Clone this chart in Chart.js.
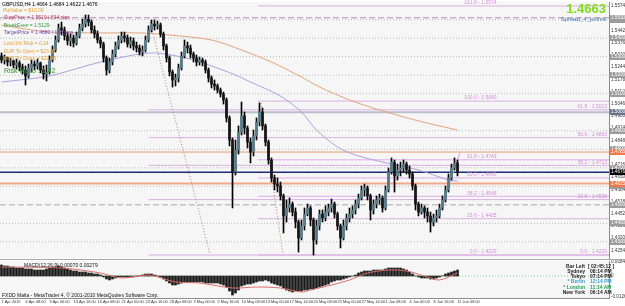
<!DOCTYPE html>
<html>
<head>
<meta charset="utf-8">
<script src="https://cdn.jsdelivr.net/npm/chart.js@4.4.1/dist/chart.umd.min.js"></script>
<style>
  html, body { margin: 0; padding: 0; background: #fff; }
  #wrap { position: relative; width: 625px; height: 306px; overflow: hidden;
          font-family: "Liberation Sans", Arial, sans-serif; }
  canvas { position: absolute; left: 0; }
  #main { top: 0; }
  #macd { top: 260px; }
  .sep { position: absolute; left: 0; width: 625px; height: 1px; background: #a9a9a9; }
  .t { position: absolute; white-space: nowrap; font-size: 5px; line-height: 6px; }
  .r { text-align: right; }
  .b { font-weight: bold; }
</style>
</head>
<body>
<div id="wrap">
  <canvas id="main" width="625" height="259"></canvas>
  <div class="sep" style="top:259px"></div>
  <canvas id="macd" width="625" height="46"></canvas>

  <div class="t" style="left:2px;top:1px;color:#000">GBPUSD,H4 1.4664 1.4684 1.4622 1.4676</div>
  <div class="t" style="left:3px;top:7px;color:#e3a33c">PipValue = $10.00</div>
  <div class="t" style="left:4px;top:14px;color:#b0385a">StopPrice = 1.5510 / 834 pips</div>
  <div class="t" style="left:4px;top:22px;color:#2f9a3a">BreakEven = 1.5129</div>
  <div class="t" style="left:4px;top:29px;color:#6b3f9e">TargetPrice = 1.4880 / 178 pips</div>
  <div class="t" style="left:4px;top:40px;color:#e3a33c">Lots/1% Risk = 0.14</div>
  <div class="t" style="left:4px;top:48px;color:#e3a33c">EUR To Open = $23.81</div>
  <div class="t" style="left:4px;top:55px;color:#e3a33c">EUR To Close = $22.40</div>
  <div class="t" style="left:4px;top:67px;color:#2f8f2f;font-size:7px;line-height:8px">Risk Ratio : 1.42</div>

  <div class="t r b" style="right:19px;top:2px;color:#7fdc1e;font-size:13px;line-height:14px">1.4663</div>
  <div class="t r" style="right:19px;top:16px;color:#4a78b0;font-size:6px;line-height:7px">Spread_4_points</div>

  <div class="t" style="left:24px;top:262px;color:#111">MACD(12,26,9) 0.00070 0.00279</div>
  <div class="t" style="left:2px;top:292px;color:#111">FXDD Malta - MetaTrader 4, © 2001-2010 MetaQuotes Software Corp.</div>

  <div class="t r b" style="right:40px;top:263px;color:#222">Bar Left</div>
  <div class="t b" style="left:588px;top:263px;color:#222">[ 02:45:12 ]</div>
  <div class="t r b" style="right:40px;top:268px;color:#222">Sydney</div>
  <div class="t b" style="left:590px;top:268px;color:#222">08:14 PM</div>
  <div class="t r b" style="right:40px;top:273px;color:#222">Tokyo</div>
  <div class="t b" style="left:590px;top:273px;color:#222">07:14 PM</div>
  <div class="t r b" style="right:40px;top:278px;color:#3a9fd6">* Berlin</div>
  <div class="t b" style="left:590px;top:278px;color:#3a9fd6">12:14 PM</div>
  <div class="t r b" style="right:40px;top:284px;color:#21a556">* London</div>
  <div class="t b" style="left:590px;top:284px;color:#21a556">11:14 AM</div>
  <div class="t r b" style="right:40px;top:289px;color:#222">New York</div>
  <div class="t b" style="left:590px;top:289px;color:#222">06:14 AM</div>
</div>

<script>
'use strict';

// GBPUSD H4, 1 Apr - 11 Jun 2010. One candle per two H4 bars.
var opens = [
  1.5304,1.5282,1.5293,1.5271,1.5277,1.5255,1.5266,1.5244,1.5228,1.5196,
  1.5239,1.5260,1.5250,1.5266,1.5228,1.5206,1.5217,1.5282,1.5336,1.5390,
  1.5455,1.5444,1.5412,1.5385,1.5401,1.5374,1.5412,1.5455,1.5476,1.5503,
  1.5487,1.5444,1.5422,1.5390,1.5368,1.5293,1.5228,1.5271,1.5314,1.5358,
  1.5390,1.5412,1.5401,1.5368,1.5385,1.5358,1.5347,1.5325,1.5336,1.5390,
  1.5444,1.5476,1.5466,1.5471,1.5422,1.5358,1.5293,1.5217,1.5174,1.5185,
  1.5239,1.5304,1.5358,1.5347,1.5314,1.5293,1.5271,1.5282,1.5271,1.5228,
  1.5185,1.5152,1.5142,1.5120,1.5098,1.5066,1.4969,1.4850,1.4677,1.4796,
  1.4893,1.4980,1.4915,1.4839,1.4785,1.4872,1.4947,1.5001,1.4926,1.4839,
  1.4742,1.4645,1.4612,1.4602,1.4548,1.4440,1.4483,1.4504,1.4461,1.4407,
  1.4321,1.4386,1.4450,1.4483,1.4418,1.4310,1.4386,1.4450,1.4429,1.4461,
  1.4483,1.4504,1.4450,1.4386,1.4321,1.4386,1.4429,1.4450,1.4472,1.4504,
  1.4537,1.4580,1.4591,1.4548,1.4472,1.4504,1.4526,1.4537,1.4483,1.4580,
  1.4677,1.4731,1.4656,1.4688,1.4699,1.4720,1.4688,1.4666,1.4602,1.4504,
  1.4461,1.4483,1.4461,1.4440,1.4407,1.4429,1.4440,1.4483,1.4526,1.4580,
  1.4645,1.4699,1.4726
];
var highs = [
  1.5320,1.5309,1.5298,1.5293,1.5282,1.5287,1.5277,1.5260,1.5250,1.5260,
  1.5282,1.5277,1.5287,1.5271,1.5250,1.5255,1.5304,1.5358,1.5412,1.5476,
  1.5487,1.5460,1.5428,1.5422,1.5417,1.5433,1.5476,1.5503,1.5525,1.5525,
  1.5498,1.5466,1.5439,1.5406,1.5379,1.5304,1.5293,1.5336,1.5379,1.5412,
  1.5433,1.5433,1.5417,1.5406,1.5401,1.5379,1.5363,1.5358,1.5412,1.5466,
  1.5498,1.5498,1.5492,1.5482,1.5433,1.5368,1.5304,1.5228,1.5206,1.5260,
  1.5325,1.5390,1.5379,1.5363,1.5325,1.5309,1.5298,1.5293,1.5282,1.5239,
  1.5196,1.5174,1.5152,1.5131,1.5109,1.5077,1.4980,1.4861,1.4850,1.4926,
  1.5055,1.5001,1.4926,1.4861,1.4904,1.4969,1.5050,1.5023,1.4936,1.4850,
  1.4753,1.4661,1.4645,1.4623,1.4558,1.4526,1.4537,1.4515,1.4483,1.4418,
  1.4418,1.4483,1.4504,1.4494,1.4429,1.4418,1.4472,1.4472,1.4494,1.4504,
  1.4531,1.4515,1.4461,1.4396,1.4418,1.4450,1.4483,1.4494,1.4526,1.4558,
  1.4602,1.4612,1.4602,1.4558,1.4526,1.4548,1.4558,1.4548,1.4602,1.4699,
  1.4753,1.4742,1.4720,1.4731,1.4742,1.4731,1.4710,1.4677,1.4612,1.4515,
  1.4504,1.4494,1.4483,1.4461,1.4450,1.4472,1.4504,1.4548,1.4602,1.4666,
  1.4720,1.4753,1.4742
];
var lows = [
  1.5266,1.5260,1.5250,1.5250,1.5239,1.5233,1.5223,1.5206,1.5147,1.5185,
  1.5217,1.5228,1.5233,1.5212,1.5179,1.5169,1.5206,1.5271,1.5325,1.5379,
  1.5417,1.5390,1.5363,1.5358,1.5352,1.5363,1.5401,1.5439,1.5460,1.5466,
  1.5428,1.5401,1.5374,1.5347,1.5271,1.5201,1.5212,1.5255,1.5298,1.5341,
  1.5374,1.5379,1.5352,1.5347,1.5336,1.5325,1.5309,1.5304,1.5325,1.5379,
  1.5433,1.5444,1.5449,1.5406,1.5336,1.5271,1.5196,1.5136,1.5142,1.5163,
  1.5228,1.5293,1.5320,1.5293,1.5271,1.5250,1.5255,1.5250,1.5212,1.5163,
  1.5131,1.5120,1.5104,1.5082,1.5044,1.4947,1.4818,1.4483,1.4661,1.4774,
  1.4877,1.4882,1.4807,1.4726,1.4764,1.4850,1.4926,1.4904,1.4818,1.4720,
  1.4623,1.4580,1.4569,1.4526,1.4348,1.4407,1.4461,1.4440,1.4375,1.4245,
  1.4310,1.4364,1.4440,1.4386,1.4229,1.4288,1.4364,1.4407,1.4413,1.4440,
  1.4461,1.4429,1.4364,1.4267,1.4310,1.4364,1.4407,1.4429,1.4450,1.4483,
  1.4526,1.4548,1.4526,1.4418,1.4450,1.4483,1.4504,1.4461,1.4472,1.4569,
  1.4666,1.4569,1.4634,1.4656,1.4677,1.4666,1.4645,1.4580,1.4472,1.4440,
  1.4450,1.4429,1.4407,1.4353,1.4386,1.4407,1.4429,1.4472,1.4515,1.4569,
  1.4634,1.4688,1.4656
];
var closes = [
  1.5282,1.5293,1.5271,1.5277,1.5255,1.5266,1.5244,1.5228,1.5196,1.5239,
  1.5260,1.5250,1.5266,1.5228,1.5206,1.5217,1.5282,1.5336,1.5390,1.5455,
  1.5444,1.5412,1.5385,1.5401,1.5374,1.5412,1.5455,1.5476,1.5503,1.5487,
  1.5444,1.5422,1.5390,1.5368,1.5293,1.5228,1.5271,1.5314,1.5358,1.5390,
  1.5412,1.5401,1.5368,1.5385,1.5358,1.5347,1.5325,1.5336,1.5390,1.5444,
  1.5476,1.5466,1.5471,1.5422,1.5358,1.5293,1.5217,1.5174,1.5185,1.5239,
  1.5304,1.5358,1.5347,1.5314,1.5293,1.5271,1.5282,1.5271,1.5228,1.5185,
  1.5152,1.5142,1.5120,1.5098,1.5066,1.4969,1.4850,1.4677,1.4796,1.4893,
  1.4980,1.4915,1.4839,1.4785,1.4872,1.4947,1.5001,1.4926,1.4839,1.4742,
  1.4645,1.4612,1.4602,1.4548,1.4440,1.4483,1.4504,1.4461,1.4407,1.4321,
  1.4386,1.4450,1.4483,1.4418,1.4310,1.4386,1.4450,1.4429,1.4461,1.4483,
  1.4504,1.4450,1.4386,1.4321,1.4386,1.4429,1.4450,1.4472,1.4504,1.4537,
  1.4580,1.4591,1.4548,1.4472,1.4504,1.4526,1.4537,1.4483,1.4580,1.4677,
  1.4731,1.4656,1.4688,1.4699,1.4720,1.4688,1.4666,1.4602,1.4504,1.4461,
  1.4483,1.4461,1.4440,1.4407,1.4429,1.4440,1.4483,1.4526,1.4580,1.4645,
  1.4699,1.4726,1.4676
];

var dateLabels = [
  '1 Apr 2010', '6 Apr 08:00', '9 Apr 00:00', '13 Apr 16:00', '16 Apr 08:00',
  '21 Apr 00:00', '23 Apr 16:00', '28 Apr 08:00', '3 May 00:00', '5 May 16:00',
  '10 May 08:00', '13 May 00:00', '17 May 16:00', '20 May 08:00', '25 May 00:00',
  '27 May 16:00', '1 Jun 08:00', '4 Jun 00:00', '8 Jun 16:00', '11 Jun 08:00'
];
var dateTickIdx = [0, 8, 16, 24, 32, 40, 48, 56, 64, 72, 80, 88, 96, 104, 112, 120, 128, 136, 144, 152];

// moving averages, read at a few candles and joined by the line
var maSlowIdx = [0, 8, 16, 33, 46, 56, 70, 80, 90, 100, 106, 116, 126, 139, 152];
var maSlowVal = [1.5471, 1.5449, 1.5433, 1.5428, 1.5428, 1.5417, 1.5390, 1.5336, 1.5271, 1.5190,
                 1.5136, 1.5066, 1.5012, 1.4953, 1.4904];
var maFastIdx = [0, 16, 33, 50, 63, 71, 78, 83, 89, 94, 100, 105, 112, 118, 127, 139, 149, 152];
var maFastVal = [1.5163, 1.5196, 1.5271, 1.5320, 1.5287, 1.5244, 1.5201, 1.5163, 1.5120, 1.5077,
                 1.5001, 1.4904, 1.4812, 1.4769, 1.4731, 1.4688, 1.4634, 1.4629];

// MACD(12,26,9) histogram per candle and its signal line
var macdHist = [
  0.0066,0.0060,0.0060,0.0054,0.0054,0.0048,0.0048,0.0048,0.0042,0.0042,
  0.0042,0.0036,0.0036,0.0036,0.0036,0.0042,0.0048,0.0054,0.0054,0.0060,
  0.0054,0.0048,0.0042,0.0036,0.0030,0.0030,0.0024,0.0024,0.0024,0.0018,
  0.0018,0.0012,0.0012,0.0006,-0.0006,-0.0018,-0.0024,-0.0018,-0.0012,-0.0006,
  -0.0006,-0.0006,-0.0006,-0.0006,-0.0006,-0.0002,0.0002,0.0006,0.0012,0.0012,
  0.0012,0.0006,0.0001,-0.0006,-0.0018,-0.0030,-0.0042,-0.0054,-0.0054,-0.0048,
  -0.0042,-0.0036,-0.0036,-0.0036,-0.0036,-0.0036,-0.0036,-0.0036,-0.0042,-0.0042,
  -0.0042,-0.0042,-0.0042,-0.0048,-0.0054,-0.0066,-0.0090,-0.0114,-0.0102,-0.0084,
  -0.0060,-0.0054,-0.0048,-0.0048,-0.0042,-0.0036,-0.0030,-0.0030,-0.0024,-0.0030,
  -0.0042,-0.0048,-0.0054,-0.0060,-0.0072,-0.0084,-0.0090,-0.0096,-0.0090,-0.0090,
  -0.0090,-0.0084,-0.0084,-0.0078,-0.0078,-0.0072,-0.0066,-0.0060,-0.0054,-0.0048,
  -0.0036,-0.0030,-0.0024,-0.0024,-0.0018,-0.0012,-0.0006,-0.0001,0.0006,0.0018,
  0.0024,0.0030,0.0030,0.0030,0.0036,0.0036,0.0036,0.0036,0.0042,0.0048,
  0.0048,0.0048,0.0048,0.0048,0.0042,0.0036,0.0024,0.0012,0.0001,-0.0006,
  -0.0012,-0.0012,-0.0012,-0.0018,-0.0018,-0.0012,-0.0006,0.0001,0.0012,0.0018,
  0.0024,0.0030,0.0036
];
var signalIdx = [0, 20, 33, 40, 49, 58, 66, 77, 85, 93, 100, 103, 110, 116, 122, 129, 135, 142, 146, 152];
var signalVal = [0.0054, 0.0048, 0.0018, -0.0012, 0.0006, -0.0036, -0.0042, -0.0072, -0.0066, -0.0072,
                 -0.0096, -0.0084, -0.0054, -0.0024, 0.0018, 0.0036, 0.0030, -0.0006, -0.0024, 0.0018];

// horizontal objects
var roundLevels = [1.43, 1.44, 1.45, 1.46, 1.47, 1.48, 1.49, 1.50, 1.51, 1.52, 1.53, 1.54, 1.55];
var stopLevel = 1.5510;
var orangeLevels = [1.4785, 1.4615];
var bidLevel = 1.4676;
var fibALevels = ['0.0', '23.6', '38.2', '50.0', '61.8'];
var fibAPrices = [1.4229, 1.4528, 1.4713, 1.4863, 1.5013];
var fibBLevels = ['0.0', '23.6', '38.2', '50.0', '61.8', '100.0', '161.8'];
var fibBPrices = [1.4229, 1.4425, 1.4546, 1.4645, 1.4743, 1.5060, 1.5574];

// trend lines: [startIdx, endIdx], [startPrice, endPrice]
var trendAIdx = [49.5, 69.5];
var trendAVal = [1.5487, 1.4234];
var trendBIdx = [86.5, 93.8];
var trendBVal = [1.5050, 1.4234];
var trendCIdx = [145.2, 152.8];
var trendCVal = [1.4418, 1.4780];

var yTickValues = [1.4254, 1.4320, 1.4386, 1.4452, 1.4518, 1.4584, 1.4650, 1.4716, 1.4782, 1.4848,
                   1.4914, 1.4980, 1.5046, 1.5112, 1.5178, 1.5244, 1.5310, 1.5376, 1.5442, 1.5508, 1.5574];
var macdTickValues = [0.0084, 0, -0.0126];

var X_MIN = -0.5, X_MAX = 202.5;
var Y_MIN = 1.42128, Y_MAX = 1.55952;
var MACD_MIN = -0.0132, MACD_MAX = 0.0090;
var FIB_A_START = 49, FIB_B_START = 85.5, FIB_B_LABEL_END = 165;
var FONT = '"Liberation Sans", Arial, sans-serif';
var BULL = '#557a88', BEAR = '#151515';

function pairs(idx, vals) {
  return idx.map(function(x, i) { return { x: x, y: vals[i] }; });
}

function hLine(price, from, color, width, dash, order) {
  return {
    type: 'line',
    data: [{ x: from, y: price }, { x: X_MAX, y: price }],
    borderColor: color, borderWidth: width, borderDash: dash || [],
    pointRadius: 0, order: order
  };
}

var plotBackground = {
  id: 'plotBackground',
  beforeDraw: function(chart) {
    var a = chart.chartArea, ctx = chart.ctx;
    ctx.save();
    ctx.fillStyle = '#f6f6f6';
    ctx.fillRect(a.left, a.top, a.right - a.left, a.bottom - a.top);
    ctx.restore();
  }
};

function axisBox(chart, price, bg) {
  var ctx = chart.ctx, a = chart.chartArea;
  var y = Math.round(chart.scales.y.getPixelForValue(price));
  ctx.fillStyle = bg;
  ctx.fillRect(a.right + 1, y - 3, 15, 6);
  ctx.fillStyle = '#fff';
  ctx.fillText(price.toFixed(4), a.right + 2, y);
}

// price boxes on the right axis and the fibonacci level captions
var priceMarks = {
  id: 'priceMarks',
  afterDraw: function(chart) {
    var ctx = chart.ctx, a = chart.chartArea, ys = chart.scales.y, xs = chart.scales.x;
    ctx.save();
    ctx.font = '4.6px ' + FONT;
    ctx.textBaseline = 'middle';
    ctx.textAlign = 'left';
    roundLevels.forEach(function(p) { axisBox(chart, p, p === 1.50 ? '#66758a' : '#9c9c9c'); });
    axisBox(chart, stopLevel, '#9c9c9c');
    orangeLevels.forEach(function(p) { axisBox(chart, p, '#ee7a4c'); });
    axisBox(chart, bidLevel, '#000');

    ctx.font = '5px ' + FONT;
    ctx.fillStyle = '#cf8fd6';
    ctx.textAlign = 'right';
    ctx.textBaseline = 'bottom';
    fibAPrices.forEach(function(p, i) {
      ctx.fillText(fibALevels[i] + ' - ' + p.toFixed(4), a.right - 2, ys.getPixelForValue(p) - 0.5);
    });
    var bx = xs.getPixelForValue(FIB_B_LABEL_END);
    fibBPrices.forEach(function(p, i) {
      ctx.fillText(fibBLevels[i] + ' - ' + p.toFixed(4), bx, ys.getPixelForValue(p) - 0.5);
    });
    ctx.restore();
  }
};

var wickData = closes.map(function(c, i) { return { x: i, y: [lows[i], highs[i]] }; });
var bodyData = closes.map(function(c, i) { return { x: i, y: [Math.min(opens[i], c), Math.max(opens[i], c)] }; });
var bodyColors = closes.map(function(c, i) { return c >= opens[i] ? BULL : BEAR; });

var mainSets = [
  { type: 'bar', data: bodyData, backgroundColor: bodyColors, barThickness: 2, minBarLength: 1, grouped: false, order: 1 },
  { type: 'bar', data: wickData, backgroundColor: '#000', barThickness: 1, grouped: false, order: 2 },
  { type: 'line', data: pairs(maSlowIdx, maSlowVal), borderColor: '#e2a47c', borderWidth: 1, pointRadius: 0, tension: 0.3, order: 5 },
  { type: 'line', data: pairs(maFastIdx, maFastVal), borderColor: '#aaa3dc', borderWidth: 1, pointRadius: 0, tension: 0.3, order: 5 },
  { type: 'line', data: pairs(trendAIdx, trendAVal), borderColor: '#b47a70', borderWidth: 1, borderDash: [1, 2], pointRadius: 0, order: 6 },
  { type: 'line', data: pairs(trendBIdx, trendBVal), borderColor: '#b47a70', borderWidth: 1, borderDash: [1, 2], pointRadius: 0, order: 6 },
  { type: 'line', data: pairs(trendCIdx, trendCVal), borderColor: '#e49ae6', borderWidth: 1, pointRadius: 0, order: 6 },
  hLine(bidLevel, X_MIN, '#1b2c78', 1.5, null, 7),
  hLine(orangeLevels[0], X_MIN, '#e39a6c', 1, null, 7),
  hLine(orangeLevels[1], X_MIN, '#f2a888', 2, null, 7),
  hLine(stopLevel, X_MIN, '#b48cb8', 1, [6, 3], 7)
];
roundLevels.forEach(function(p) {
  if (p === 1.50) {
    mainSets.push(hLine(p, X_MIN, '#b9bfcd', 2, null, 9));
  } else if (p === 1.45) {
    mainSets.push(hLine(p, X_MIN, '#a9a9a9', 1, [6, 3], 9));
  } else {
    mainSets.push(hLine(p, X_MIN, '#b8b8b8', 1, [1, 2], 9));
  }
});
fibAPrices.forEach(function(p) { mainSets.push(hLine(p, FIB_A_START, '#dcaee4', 1, null, 8)); });
fibBPrices.forEach(function(p) { mainSets.push(hLine(p, FIB_B_START, '#dcaee4', 1, null, 8)); });

new Chart(document.getElementById('main'), {
  type: 'bar',
  data: { datasets: mainSets },
  options: {
    responsive: false, animation: false, devicePixelRatio: 1, events: [],
    layout: { padding: { top: 2, bottom: 1, left: 0, right: 0 } },
    plugins: { legend: { display: false }, tooltip: { enabled: false } },
    scales: {
      x: { type: 'linear', min: X_MIN, max: X_MAX, offset: false, display: false },
      y: {
        position: 'right', min: Y_MIN, max: Y_MAX,
        grid: { display: false, drawTicks: false },
        border: { display: true, color: '#8d8d8d' },
        afterBuildTicks: function(s) { s.ticks = yTickValues.map(function(v) { return { value: v }; }); },
        afterFit: function(s) { s.width = 16; s.paddingTop = 0; s.paddingBottom = 0; },
        ticks: {
          font: { size: 4.6, family: FONT }, color: '#333', padding: 2,
          callback: function(v) { return v.toFixed(4); }
        }
      }
    }
  },
  plugins: [plotBackground, priceMarks]
});

var macdSets = [
  { type: 'line', data: pairs(signalIdx, signalVal), borderColor: '#dc6e68', borderWidth: 1, pointRadius: 0, tension: 0.3, order: 1 },
  { type: 'bar', data: macdHist.map(function(v, i) { return { x: i, y: v }; }), backgroundColor: '#1a1a1a', barThickness: 2, grouped: false, order: 2 },
  hLine(0, X_MIN, '#7ccf86', 1, [1, 2], 3)
];

new Chart(document.getElementById('macd'), {
  type: 'bar',
  data: { datasets: macdSets },
  options: {
    responsive: false, animation: false, devicePixelRatio: 1, events: [],
    layout: { padding: { top: 1, bottom: 0, left: 0, right: 0 } },
    plugins: { legend: { display: false }, tooltip: { enabled: false } },
    scales: {
      x: {
        type: 'linear', min: X_MIN, max: X_MAX, offset: false, position: 'bottom',
        grid: { display: false, drawTicks: false },
        border: { display: true, color: '#8d8d8d' },
        afterBuildTicks: function(s) { s.ticks = dateTickIdx.map(function(v) { return { value: v }; }); },
        afterFit: function(s) { s.height = 8; s.paddingLeft = 0; s.paddingRight = 0; },
        ticks: {
          autoSkip: false, maxRotation: 0, minRotation: 0, align: 'start', padding: 2,
          font: { size: 3.9, family: FONT }, color: '#333',
          callback: function(v, i) { return dateLabels[i]; }
        }
      },
      y: {
        position: 'right', min: MACD_MIN, max: MACD_MAX,
        grid: { display: false, drawTicks: false },
        border: { display: true, color: '#8d8d8d' },
        afterBuildTicks: function(s) { s.ticks = macdTickValues.map(function(v) { return { value: v }; }); },
        afterFit: function(s) { s.width = 16; s.paddingTop = 0; s.paddingBottom = 0; },
        ticks: {
          font: { size: 4.6, family: FONT }, color: '#333', padding: 2,
          callback: function(v) { return v === 0 ? '0' : v.toFixed(4); }
        }
      }
    }
  },
  plugins: [plotBackground]
});
</script>
</body>
</html>
